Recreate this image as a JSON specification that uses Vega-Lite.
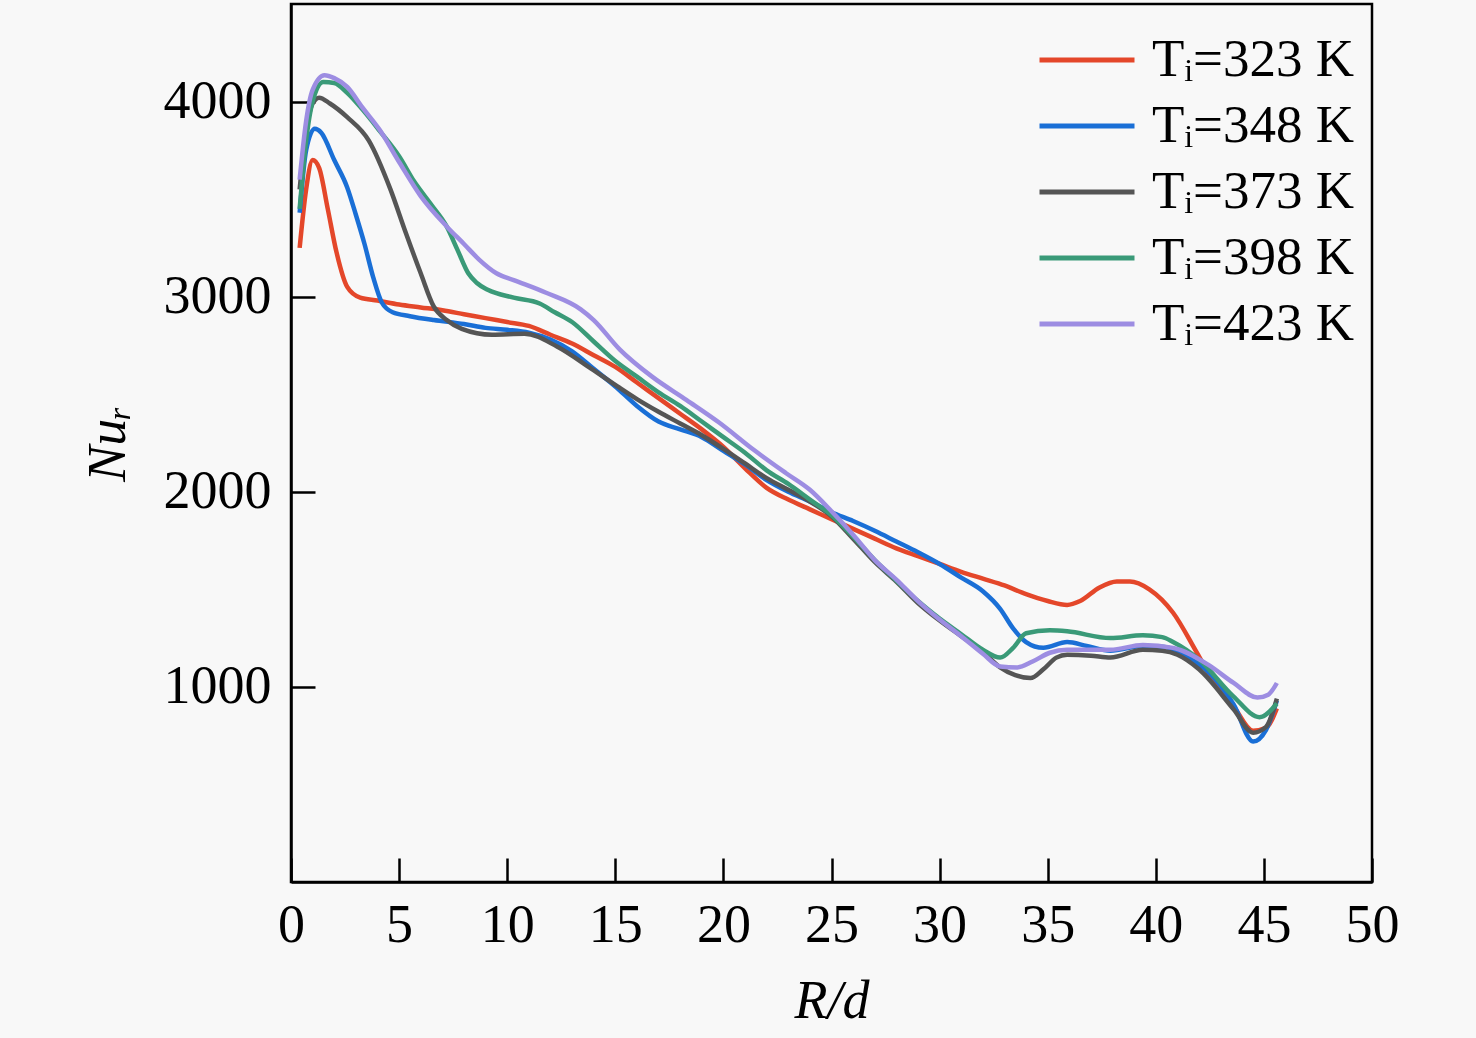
{
  "$schema": "https://vega.github.io/schema/vega-lite/v6.json",
  "width": 1081,
  "height": 878,
  "autosize": {"type": "none"},
  "padding": {"left": 291, "top": 4, "right": 104, "bottom": 156},
  "background": "#f8f8f8",
  "config": {
    "view": {"stroke": "#000000", "strokeWidth": 2.5, "fill": "#f8f8f8"},
    "font": "Liberation Serif"
  },
  "data": {
    "values": [
      {"T":323,"x":0.4,"y":3250},{"T":323,"x":0.7,"y":3550},{"T":323,"x":1.0,"y":3700},{"T":323,"x":1.3,"y":3660},{"T":323,"x":1.7,"y":3450},{"T":323,"x":2.1,"y":3230},{"T":323,"x":2.6,"y":3050},{"T":323,"x":3.2,"y":2995},{"T":323,"x":4,"y":2980},{"T":323,"x":5,"y":2960},{"T":323,"x":6,"y":2945},{"T":323,"x":7,"y":2930},{"T":323,"x":8,"y":2910},{"T":323,"x":9,"y":2890},{"T":323,"x":10,"y":2870},{"T":323,"x":11,"y":2850},{"T":323,"x":12,"y":2805},{"T":323,"x":13,"y":2760},{"T":323,"x":14,"y":2700},{"T":323,"x":15,"y":2640},{"T":323,"x":16,"y":2560},{"T":323,"x":17,"y":2480},{"T":323,"x":18,"y":2400},{"T":323,"x":19,"y":2320},{"T":323,"x":20,"y":2230},{"T":323,"x":21,"y":2120},{"T":323,"x":22,"y":2020},{"T":323,"x":23,"y":1960},{"T":323,"x":24,"y":1910},{"T":323,"x":25,"y":1860},{"T":323,"x":26,"y":1810},{"T":323,"x":27,"y":1760},{"T":323,"x":28,"y":1710},{"T":323,"x":29,"y":1670},{"T":323,"x":30,"y":1630},{"T":323,"x":31,"y":1590},{"T":323,"x":32,"y":1555},{"T":323,"x":33,"y":1520},{"T":323,"x":34,"y":1475},{"T":323,"x":35,"y":1440},{"T":323,"x":35.9,"y":1420},{"T":323,"x":36.5,"y":1440},{"T":323,"x":37.4,"y":1510},{"T":323,"x":38.2,"y":1540},{"T":323,"x":38.8,"y":1540},{"T":323,"x":39.7,"y":1500},{"T":323,"x":40.8,"y":1380},{"T":323,"x":41.9,"y":1175},{"T":323,"x":42.7,"y":1020},{"T":323,"x":43.6,"y":900},{"T":323,"x":44.5,"y":775},{"T":323,"x":45.1,"y":790},{"T":323,"x":45.6,"y":890},

      {"T":348,"x":0.4,"y":3430},{"T":348,"x":0.7,"y":3750},{"T":348,"x":1.1,"y":3860},{"T":348,"x":1.4,"y":3840},{"T":348,"x":2.0,"y":3700},{"T":348,"x":2.6,"y":3560},{"T":348,"x":3.0,"y":3420},{"T":348,"x":3.4,"y":3270},{"T":348,"x":3.8,"y":3100},{"T":348,"x":4.2,"y":2970},{"T":348,"x":4.7,"y":2920},{"T":348,"x":5.5,"y":2900},{"T":348,"x":6.6,"y":2880},{"T":348,"x":8,"y":2860},{"T":348,"x":9,"y":2840},{"T":348,"x":10,"y":2830},{"T":348,"x":11,"y":2815},{"T":348,"x":12,"y":2780},{"T":348,"x":13,"y":2720},{"T":348,"x":14,"y":2630},{"T":348,"x":15,"y":2540},{"T":348,"x":16,"y":2440},{"T":348,"x":17,"y":2360},{"T":348,"x":18,"y":2320},{"T":348,"x":19,"y":2280},{"T":348,"x":20,"y":2210},{"T":348,"x":21,"y":2140},{"T":348,"x":22,"y":2060},{"T":348,"x":23,"y":2000},{"T":348,"x":24,"y":1950},{"T":348,"x":25,"y":1895},{"T":348,"x":26,"y":1850},{"T":348,"x":27,"y":1800},{"T":348,"x":28,"y":1745},{"T":348,"x":29,"y":1690},{"T":348,"x":30,"y":1630},{"T":348,"x":31,"y":1560},{"T":348,"x":32,"y":1490},{"T":348,"x":32.8,"y":1400},{"T":348,"x":33.4,"y":1300},{"T":348,"x":34,"y":1230},{"T":348,"x":34.8,"y":1200},{"T":348,"x":35.9,"y":1230},{"T":348,"x":36.8,"y":1210},{"T":348,"x":37.9,"y":1185},{"T":348,"x":39.4,"y":1210},{"T":348,"x":40.4,"y":1205},{"T":348,"x":41.5,"y":1150},{"T":348,"x":42.4,"y":1080},{"T":348,"x":43.6,"y":910},{"T":348,"x":44.5,"y":720},{"T":348,"x":45.1,"y":780},{"T":348,"x":45.6,"y":930},

      {"T":373,"x":0.4,"y":3550},{"T":373,"x":0.7,"y":3850},{"T":373,"x":1.0,"y":3990},{"T":373,"x":1.3,"y":4020},{"T":373,"x":1.8,"y":3990},{"T":373,"x":2.6,"y":3920},{"T":373,"x":3.6,"y":3800},{"T":373,"x":4.6,"y":3550},{"T":373,"x":5.3,"y":3330},{"T":373,"x":6.0,"y":3120},{"T":373,"x":6.6,"y":2950},{"T":373,"x":7.2,"y":2880},{"T":373,"x":7.9,"y":2835},{"T":373,"x":9.3,"y":2805},{"T":373,"x":10.8,"y":2810},{"T":373,"x":12.3,"y":2745},{"T":373,"x":13.9,"y":2630},{"T":373,"x":15.1,"y":2540},{"T":373,"x":16,"y":2475},{"T":373,"x":17,"y":2410},{"T":373,"x":18,"y":2350},{"T":373,"x":19,"y":2290},{"T":373,"x":20,"y":2220},{"T":373,"x":21,"y":2145},{"T":373,"x":22,"y":2070},{"T":373,"x":23,"y":2010},{"T":373,"x":24,"y":1950},{"T":373,"x":25,"y":1875},{"T":373,"x":26,"y":1760},{"T":373,"x":27,"y":1640},{"T":373,"x":28,"y":1540},{"T":373,"x":29,"y":1430},{"T":373,"x":30,"y":1340},{"T":373,"x":31,"y":1260},{"T":373,"x":32,"y":1180},{"T":373,"x":32.8,"y":1100},{"T":373,"x":33.5,"y":1060},{"T":373,"x":34.2,"y":1045},{"T":373,"x":34.8,"y":1090},{"T":373,"x":35.4,"y":1150},{"T":373,"x":35.9,"y":1165},{"T":373,"x":37,"y":1160},{"T":373,"x":37.9,"y":1150},{"T":373,"x":39.4,"y":1190},{"T":373,"x":40.3,"y":1185},{"T":373,"x":41,"y":1165},{"T":373,"x":42,"y":1090},{"T":373,"x":43.6,"y":885},{"T":373,"x":44.5,"y":765},{"T":373,"x":45.1,"y":795},{"T":373,"x":45.6,"y":940},

      {"T":398,"x":0.4,"y":3450},{"T":398,"x":0.7,"y":3800},{"T":398,"x":1.0,"y":4000},{"T":398,"x":1.5,"y":4100},{"T":398,"x":2.0,"y":4095},{"T":398,"x":2.6,"y":4045},{"T":398,"x":3.3,"y":3960},{"T":398,"x":4.1,"y":3850},{"T":398,"x":5.0,"y":3720},{"T":398,"x":5.7,"y":3590},{"T":398,"x":6.5,"y":3470},{"T":398,"x":7.2,"y":3360},{"T":398,"x":7.7,"y":3240},{"T":398,"x":8.2,"y":3120},{"T":398,"x":8.6,"y":3070},{"T":398,"x":9.1,"y":3035},{"T":398,"x":10.3,"y":2995},{"T":398,"x":11.5,"y":2965},{"T":398,"x":12.2,"y":2920},{"T":398,"x":13,"y":2870},{"T":398,"x":14,"y":2770},{"T":398,"x":15,"y":2670},{"T":398,"x":16,"y":2590},{"T":398,"x":17,"y":2510},{"T":398,"x":18,"y":2440},{"T":398,"x":19,"y":2360},{"T":398,"x":20,"y":2280},{"T":398,"x":21,"y":2200},{"T":398,"x":22,"y":2110},{"T":398,"x":23,"y":2040},{"T":398,"x":24,"y":1960},{"T":398,"x":25,"y":1880},{"T":398,"x":26,"y":1770},{"T":398,"x":27,"y":1650},{"T":398,"x":28,"y":1545},{"T":398,"x":29,"y":1440},{"T":398,"x":30,"y":1350},{"T":398,"x":31,"y":1270},{"T":398,"x":32,"y":1190},{"T":398,"x":32.8,"y":1150},{"T":398,"x":33.4,"y":1200},{"T":398,"x":34.0,"y":1275},{"T":398,"x":35.1,"y":1290},{"T":398,"x":35.9,"y":1285},{"T":398,"x":37.9,"y":1250},{"T":398,"x":39.4,"y":1265},{"T":398,"x":40.3,"y":1255},{"T":398,"x":40.8,"y":1230},{"T":398,"x":42,"y":1140},{"T":398,"x":43.6,"y":950},{"T":398,"x":44.8,"y":845},{"T":398,"x":45.6,"y":915},

      {"T":423,"x":0.4,"y":3600},{"T":423,"x":0.7,"y":3900},{"T":423,"x":1.0,"y":4060},{"T":423,"x":1.55,"y":4135},{"T":423,"x":2.0,"y":4120},{"T":423,"x":2.6,"y":4075},{"T":423,"x":3.3,"y":3970},{"T":423,"x":4.1,"y":3855},{"T":423,"x":5.0,"y":3690},{"T":423,"x":6.0,"y":3515},{"T":423,"x":7.2,"y":3360},{"T":423,"x":8.0,"y":3270},{"T":423,"x":8.7,"y":3190},{"T":423,"x":9.5,"y":3120},{"T":423,"x":10.3,"y":3085},{"T":423,"x":11.8,"y":3020},{"T":423,"x":13.4,"y":2935},{"T":423,"x":14,"y":2880},{"T":423,"x":15.2,"y":2730},{"T":423,"x":16.7,"y":2590},{"T":423,"x":18.3,"y":2470},{"T":423,"x":19.8,"y":2355},{"T":423,"x":21.4,"y":2215},{"T":423,"x":22.9,"y":2095},{"T":423,"x":24,"y":2010},{"T":423,"x":25,"y":1900},{"T":423,"x":26,"y":1780},{"T":423,"x":27,"y":1650},{"T":423,"x":28,"y":1550},{"T":423,"x":29,"y":1440},{"T":423,"x":30,"y":1345},{"T":423,"x":31,"y":1260},{"T":423,"x":32,"y":1170},{"T":423,"x":32.8,"y":1105},{"T":423,"x":33.6,"y":1100},{"T":423,"x":34.3,"y":1130},{"T":423,"x":35.1,"y":1175},{"T":423,"x":35.9,"y":1190},{"T":423,"x":37.9,"y":1190},{"T":423,"x":39.4,"y":1215},{"T":423,"x":40.8,"y":1200},{"T":423,"x":42.4,"y":1115},{"T":423,"x":43.6,"y":1020},{"T":423,"x":44.7,"y":945},{"T":423,"x":45.2,"y":960},{"T":423,"x":45.6,"y":1020}
    ]
  },
  "mark": {"type": "line", "interpolate": "monotone", "strokeWidth": 4.5, "clip": true},
  "encoding": {
    "x": {
      "field": "x", "type": "quantitative",
      "scale": {"domain": [0, 50], "nice": false, "zero": false},
      "axis": {
        "values": [0,5,10,15,20,25,30,35,40,45,50],
        "format": "d",
        "title": "R/d",
        "titleFont": "Liberation Serif", "titleFontSize": 54, "titleFontStyle": "italic", "titleFontWeight": "normal", "titleColor": "#000000", "titlePadding": 22,
        "labelFont": "Liberation Serif", "labelFontSize": 54, "labelColor": "#000000", "labelFlush": false, "labelPadding": 40,
        "tickSize": -24, "tickWidth": 2.5, "tickColor": "#000000",
        "domainColor": "#000000", "domainWidth": 2.5, "grid": false
      }
    },
    "y": {
      "field": "y", "type": "quantitative",
      "scale": {"domain": [0, 4500], "nice": false},
      "axis": {
        "values": [1000, 2000, 3000, 4000],
        "format": "d",
        "title": "Nuᵣ",
        "titleFont": "Liberation Serif", "titleFontSize": 54, "titleFontStyle": "italic", "titleFontWeight": "normal", "titleColor": "#000000", "titlePadding": 28,
        "labelFont": "Liberation Serif", "labelFontSize": 54, "labelColor": "#000000", "labelPadding": 44,
        "tickSize": -24, "tickWidth": 2.5, "tickColor": "#000000",
        "domainColor": "#000000", "domainWidth": 2.5, "grid": false
      }
    },
    "color": {
      "field": "T", "type": "nominal",
      "scale": {"domain": [323, 348, 373, 398, 423], "range": ["#e4472a", "#1a6fd6", "#555555", "#3a9a78", "#9d8de2"]},
      "legend": {
        "title": null,
        "orient": "none", "legendX": 746, "legendY": 28,
        "padding": 0,
        "symbolType": "stroke", "symbolSize": 9025, "symbolStrokeWidth": 5,
        "clipHeight": 56,
        "labelExpr": "'Tᵢ=' + datum.label + ' K'",
        "labelFont": "Liberation Serif", "labelFontSize": 53, "labelColor": "#000000", "labelOffset": 15, "labelLimit": 400,
        "rowPadding": 10
      }
    }
  }
}
